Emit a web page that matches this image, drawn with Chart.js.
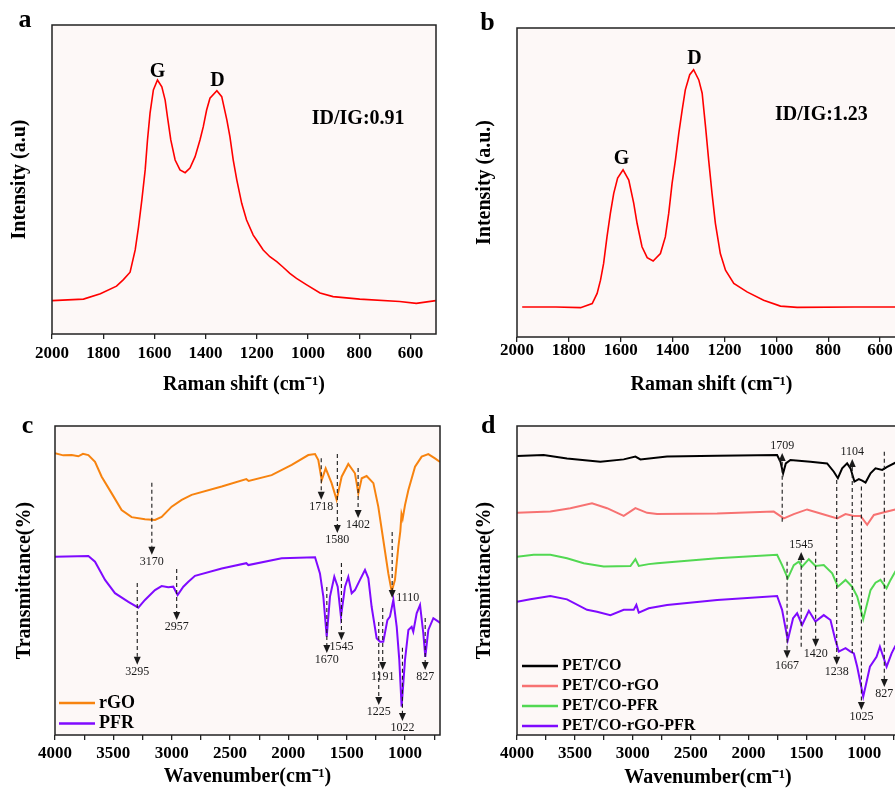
<!DOCTYPE html>
<html>
<head>
<meta charset="utf-8">
<script src="https://cdn.jsdelivr.net/npm/chart.js@4.4.1/dist/chart.umd.min.js"></script>
<style>
  html, body { margin: 0; padding: 0; width: 895px; height: 789px; overflow: hidden; background: #fff; }
  .panel { position: absolute; }
</style>
</head>
<body>
<div class="panel" style="left:0;top:0"><canvas id="chart-a" width="450" height="400"></canvas></div>
<div class="panel" style="left:450px;top:0"><canvas id="chart-b" width="470" height="400"></canvas></div>
<div class="panel" style="left:0;top:400px"><canvas id="chart-c" width="450" height="389"></canvas></div>
<div class="panel" style="left:450px;top:400px"><canvas id="chart-d" width="465" height="389"></canvas></div>
<script>
// ---- Raman (a): rGO
const ramanAShift = [2000, 1877, 1811, 1748, 1721, 1695, 1675, 1662, 1649, 1636, 1627, 1617, 1604, 1588, 1571, 1558, 1549, 1536, 1519, 1500, 1480, 1461, 1441, 1422, 1409, 1396, 1383, 1356, 1337, 1317, 1305, 1292, 1278, 1259, 1240, 1214, 1201, 1175, 1149, 1122, 1097, 1071, 1045, 1005, 953, 902, 798, 642, 577, 501];
const ramanAIntensity = [10.8, 11.3, 13.0, 15.5, 17.6, 20.0, 27.2, 34.7, 43.4, 53.1, 62.8, 71.5, 79.0, 82.2, 80.0, 75.7, 70.3, 62.8, 56.3, 53.1, 52.2, 53.7, 57.4, 62.8, 67.1, 72.5, 76.3, 78.7, 76.8, 69.3, 63.9, 56.3, 49.8, 42.3, 36.9, 32.0, 30.4, 27.2, 25.0, 23.4, 21.6, 19.6, 18.0, 15.9, 13.3, 12.1, 11.3, 10.5, 9.9, 10.8];

// ---- Raman (b)
const ramanBShift = [1980, 1850, 1755, 1710, 1691, 1678, 1666, 1653, 1640, 1627, 1612, 1591, 1569, 1550, 1537, 1518, 1498, 1475, 1447, 1428, 1415, 1402, 1389, 1376, 1363, 1351, 1334, 1319, 1299, 1286, 1273, 1261, 1248, 1235, 1216, 1196, 1164, 1113, 1049, 984, 920, 700, 500];
const ramanBIntensity = [9.7, 9.7, 9.5, 10.8, 14.1, 18.4, 23.8, 32.4, 40.0, 46.5, 51.4, 54.1, 50.8, 43.3, 36.8, 29.2, 25.7, 24.6, 27.0, 32.4, 40.0, 49.7, 57.3, 66.0, 73.5, 80.0, 84.9, 86.5, 83.2, 78.9, 68.1, 57.3, 46.5, 36.8, 27.0, 21.6, 17.3, 14.6, 11.9, 10.0, 9.6, 9.7, 9.7];

const ramanTicks = [2000, 1800, 1600, 1400, 1200, 1000, 800, 600];

// ---- FTIR (c): rGO and PFR
const ftirRgoWn = [4000, 3930, 3857, 3800, 3760, 3714, 3657, 3600, 3514, 3429, 3343, 3229, 3143, 3086, 3000, 2914, 2829, 2571, 2360, 2340, 2143, 1971, 1829, 1771, 1743, 1714, 1680, 1629, 1586, 1543, 1486, 1429, 1400, 1371, 1329, 1271, 1229, 1186, 1143, 1114, 1086, 1057, 1040, 1030, 1020, 1000, 971, 914, 857, 800, 743, 700];
const ftirRgoT = [91.2, 90.5, 90.6, 90.2, 91.0, 90.6, 88.4, 83.6, 78.2, 72.8, 70.5, 69.8, 69.6, 70.6, 73.9, 76.1, 77.7, 80.4, 82.8, 82.2, 84.1, 87.4, 90.6, 90.9, 89.0, 82.5, 86.3, 81.5, 76.1, 83.6, 87.7, 84.7, 78.2, 83.1, 83.8, 81.5, 73.9, 63.1, 52.3, 46.4, 50.2, 60.9, 66.0, 71.5, 70.0, 74.4, 79.3, 86.8, 90.1, 90.9, 89.5, 88.4];
const ftirPfrWn = [4000, 3714, 3657, 3571, 3486, 3371, 3286, 3229, 3143, 3086, 3029, 2986, 2949, 2900, 2857, 2800, 2571, 2360, 2343, 2057, 1771, 1729, 1700, 1671, 1643, 1606, 1577, 1549, 1514, 1486, 1457, 1429, 1386, 1343, 1314, 1286, 1243, 1214, 1186, 1151, 1129, 1100, 1071, 1049, 1029, 1000, 971, 943, 929, 900, 871, 843, 826, 800, 757, 714, 700];
const ftirPfrT = [57.7, 57.9, 56.1, 50.2, 45.9, 43.1, 41.2, 43.7, 46.9, 48.2, 47.8, 48.0, 45.3, 48.0, 49.6, 51.5, 53.9, 55.6, 55.0, 57.2, 57.5, 52.3, 44.8, 31.8, 44.8, 51.2, 48.0, 38.3, 48.0, 51.2, 45.9, 46.9, 50.2, 53.4, 50.7, 41.5, 31.3, 30.2, 30.2, 37.2, 38.3, 43.7, 35.0, 24.3, 9.2, 24.3, 34.0, 35.0, 33.4, 39.4, 42.1, 32.9, 25.3, 34.0, 37.8, 36.7, 36.2];

// ---- FTIR (d): composites
const petCoWn = [4000, 3770, 3568, 3280, 3078, 2977, 2934, 2704, 2271, 1753, 1724, 1701, 1678, 1638, 1465, 1321, 1263, 1228, 1191, 1148, 1119, 1085, 1047, 1018, 989, 946, 903, 845, 802, 733, 700];
const petCoT = [90.3, 90.6, 89.5, 88.4, 89.2, 90.1, 89.2, 90.1, 90.4, 90.6, 88.4, 84.7, 87.9, 89.0, 88.4, 87.9, 85.2, 83.1, 86.3, 87.9, 86.3, 82.0, 82.8, 82.3, 81.7, 84.7, 86.3, 85.8, 86.8, 88.1, 88.3];
const petCoRgoWn = [4000, 3712, 3539, 3352, 3222, 3078, 2977, 2876, 2790, 2271, 1782, 1695, 1609, 1494, 1378, 1234, 1162, 1090, 1032, 975, 917, 845, 733, 700];
const petCoRgoT = [71.9, 72.3, 73.4, 75.0, 73.4, 70.9, 73.4, 71.9, 71.5, 71.7, 72.3, 70.1, 71.5, 73.0, 71.7, 70.1, 71.5, 70.9, 70.9, 68.0, 71.2, 71.9, 73.0, 73.1];
const petCoPfrWn = [4000, 3856, 3712, 3568, 3424, 3251, 3020, 2977, 2948, 2862, 2790, 2271, 1753, 1710, 1661, 1609, 1566, 1537, 1479, 1422, 1350, 1277, 1228, 1162, 1105, 1061, 1009, 946, 903, 860, 808, 773, 733, 700];
const petCoPfrT = [57.7, 58.3, 58.3, 57.2, 55.6, 54.5, 54.7, 56.9, 54.7, 55.3, 55.6, 57.2, 58.3, 55.0, 50.7, 55.0, 56.1, 54.5, 56.9, 54.7, 55.0, 52.3, 48.0, 50.2, 48.0, 44.8, 37.5, 46.9, 49.3, 50.2, 47.5, 50.2, 52.8, 54.7];
const petCoRgoPfrWn = [4000, 3885, 3712, 3568, 3395, 3309, 3193, 3078, 2992, 2969, 2948, 2862, 2704, 2271, 1753, 1710, 1661, 1615, 1580, 1537, 1479, 1422, 1350, 1292, 1249, 1220, 1162, 1119, 1090, 1061, 1009, 951, 894, 865, 807, 764, 735, 700];
const petCoRgoPfrT = [43.1, 43.9, 45.0, 43.9, 40.5, 39.9, 38.8, 40.5, 40.5, 42.1, 39.6, 41.0, 42.1, 43.7, 45.0, 40.5, 30.7, 37.8, 39.4, 35.6, 40.2, 36.7, 38.8, 37.2, 30.7, 27.0, 28.1, 27.0, 26.4, 22.1, 12.4, 22.1, 25.3, 28.6, 22.1, 26.4, 28.6, 30.7];

const ftirTicks = [4000, 3500, 3000, 2500, 2000, 1500, 1000];
const ftirMinorTicks = [3750, 3250, 2750, 2250, 1750, 1250, 750];

// peak labels: wavenumber, dashed arrow from/to (transmittance units)
const ftirCMarks = [
  { wn: 3170, from: 81.6, to: 58.3, label: '3170' },
  { wn: 1718, from: 89.6, to: 76.1, label: '1718' },
  { wn: 1580, from: 90.9, to: 65.4, label: '1580' },
  { wn: 1402, from: 86.4, to: 70.2, label: '1402' },
  { wn: 1110, from: 65.7, to: 44.3, label: '1110', side: 'right' },
  { wn: 3295, from: 49.2, to: 22.7, label: '3295' },
  { wn: 2957, from: 53.7, to: 37.2, label: '2957' },
  { wn: 1670, from: 47.9, to: 26.5, label: '1670' },
  { wn: 1545, from: 55.7, to: 30.7, label: '1545' },
  { wn: 1225, from: 36.6, to: 9.7, label: '1225' },
  { wn: 1191, from: 41.1, to: 21.0, label: '1191' },
  { wn: 1022, from: 28.2, to: 4.5, label: '1022' },
  { wn: 827, from: 37.9, to: 21.0, label: '827' }
];
const ftirDMarks = [
  { wn: 1709, from: 69.0, to: 91.3, label: '1709' },
  { wn: 1104, from: 26.5, to: 89.3, label: '1104' },
  { wn: 1545, from: 28.6, to: 59.2, label: '1545' },
  { wn: 1667, from: 56.1, to: 24.8, label: '1667' },
  { wn: 1420, from: 59.3, to: 28.6, label: '1420' },
  { wn: 1238, from: 82.5, to: 22.7, label: '1238' },
  { wn: 1025, from: 80.4, to: 8.1, label: '1025' },
  { wn: 827, from: 91.7, to: 15.5, label: '827' }
];

const ramanATexts = [
  { wn: 1588, v: 84.9, text: 'G' },
  { wn: 1354, v: 81.9, text: 'D' },
  { wn: 804, v: 69.5, text: 'ID/IG:0.91' }
];
const ramanBTexts = [
  { wn: 1597, v: 57.5, text: 'G' },
  { wn: 1316, v: 89.9, text: 'D' },
  { wn: 826, v: 71.9, text: 'ID/IG:1.23' }
];

const SERIF = "'Liberation Serif', 'Times New Roman', serif";
Chart.defaults.font.family = SERIF;
Chart.defaults.color = '#000';

function toPoints(xs, ys) {
  return xs.map((x, i) => ({ x, y: ys[i] }));
}

function drawMark(ctx, xs, ys, mark) {
  const x = xs.getPixelForValue(mark.wn);
  const y0 = ys.getPixelForValue(mark.from);
  const y1 = ys.getPixelForValue(mark.to);
  const dir = y1 > y0 ? 1 : -1;
  const head = 8;
  ctx.save();
  ctx.strokeStyle = '#1a1a1a';
  ctx.fillStyle = '#1a1a1a';
  ctx.lineWidth = 1.1;
  ctx.setLineDash([4, 3]);
  ctx.beginPath();
  ctx.moveTo(x, y0);
  ctx.lineTo(x, y1 - dir * head);
  ctx.stroke();
  ctx.setLineDash([]);
  ctx.beginPath();
  ctx.moveTo(x, y1);
  ctx.lineTo(x - 3.5, y1 - dir * head);
  ctx.lineTo(x + 3.5, y1 - dir * head);
  ctx.closePath();
  ctx.fill();
  ctx.font = '12px ' + SERIF;
  if (mark.side === 'right') {
    ctx.textAlign = 'left';
    ctx.textBaseline = 'middle';
    ctx.fillText(mark.label, x + 4, y1);
  } else {
    ctx.textAlign = 'center';
    ctx.textBaseline = dir > 0 ? 'top' : 'bottom';
    ctx.fillText(mark.label, x, y1 + dir * 1);
  }
  ctx.restore();
}

function decorPlugin(cfg) {
  return {
    id: 'decor',
    beforeDatasetsDraw(chart) {
      const { ctx, chartArea: a } = chart;
      ctx.save();
      ctx.fillStyle = '#fdf8f7';
      ctx.fillRect(a.left, a.top, a.right - a.left, a.bottom - a.top);
      ctx.restore();
    },
    afterDraw(chart) {
      const { ctx, chartArea: a } = chart;
      const xs = chart.scales.x;
      const ys = chart.scales.y;
      ctx.save();
      ctx.strokeStyle = '#222';
      ctx.lineWidth = 1.5;
      ctx.strokeRect(a.left, a.top, a.right - a.left, a.bottom - a.top);

      ctx.fillStyle = '#000';
      ctx.font = 'bold 26px ' + SERIF;
      ctx.textAlign = 'center';
      ctx.textBaseline = 'alphabetic';
      ctx.fillText(cfg.letter, cfg.letterPos[0], cfg.letterPos[1]);

      ctx.font = 'bold 20px ' + SERIF;
      ctx.textBaseline = 'middle';
      (cfg.texts || []).forEach(t => {
        ctx.fillText(t.text, xs.getPixelForValue(t.wn), ys.getPixelForValue(t.v));
      });
      ctx.restore();

      (cfg.marks || []).forEach(m => drawMark(ctx, xs, ys, m));

      if (cfg.legend) {
        const L = cfg.legend;
        ctx.save();
        ctx.font = 'bold ' + L.size + 'px ' + SERIF;
        ctx.textAlign = 'left';
        ctx.textBaseline = 'middle';
        chart.data.datasets.forEach((ds, i) => {
          const y = L.top + i * L.step;
          ctx.strokeStyle = ds.borderColor;
          ctx.lineWidth = 2.5;
          ctx.beginPath();
          ctx.moveTo(L.x1, y);
          ctx.lineTo(L.x2, y);
          ctx.stroke();
          ctx.fillStyle = '#000';
          ctx.fillText(ds.label, L.x2 + 4, y);
        });
        ctx.restore();
      }
    }
  };
}

function buildChart(canvasId, cfg) {
  const tickValues = cfg.ticks.concat(cfg.minorTicks || []);
  return new Chart(document.getElementById(canvasId), {
    type: 'line',
    data: {
      datasets: cfg.series.map(s => ({
        label: s.label,
        data: toPoints(s.xs, s.ys),
        borderColor: s.color,
        borderWidth: s.width,
        pointRadius: 0,
        tension: 0,
        fill: false
      }))
    },
    options: {
      responsive: false,
      animation: false,
      events: [],
      layout: { padding: { left: 0, right: cfg.padRight, top: cfg.padTop, bottom: 0 } },
      plugins: { legend: { display: false }, tooltip: { enabled: false } },
      scales: {
        x: {
          type: 'linear',
          reverse: true,
          min: cfg.xMin,
          max: cfg.xMax,
          afterBuildTicks: s => { s.ticks = tickValues.map(v => ({ value: v })); },
          afterFit: s => { s.height = cfg.xAxisHeight; },
          ticks: {
            autoSkip: false,
            maxRotation: 0,
            padding: cfg.tickPad,
            font: { size: 17, weight: 'bold', lineHeight: 1 },
            callback: v => (cfg.ticks.includes(v) ? String(v) : '')
          },
          grid: { drawOnChartArea: false, drawTicks: true, tickLength: 5, color: '#222', lineWidth: 1.3 },
          border: { display: false },
          title: {
            display: true,
            text: cfg.xTitle,
            font: { size: 20, weight: 'bold', lineHeight: 1 },
            padding: { top: 0, bottom: cfg.xTitlePad }
          }
        },
        y: {
          min: 0,
          max: 100,
          afterFit: s => { s.width = cfg.yAxisWidth; },
          ticks: { display: false },
          grid: { display: false },
          border: { display: false },
          title: {
            display: true,
            text: cfg.yTitle,
            font: { size: 20, weight: 'bold', lineHeight: 1 },
            padding: { top: cfg.yTitlePad, bottom: 0 }
          }
        }
      }
    },
    plugins: [decorPlugin(cfg)]
  });
}

buildChart('chart-a', {
  letter: 'a', letterPos: [25, 27],
  series: [{ label: 'rGO', xs: ramanAShift, ys: ramanAIntensity, color: '#ff0000', width: 1.6 }],
  xMin: 500, xMax: 2000, ticks: ramanTicks,
  padRight: 14, padTop: 25, yAxisWidth: 52, xAxisHeight: 66,
  tickPad: 6, xTitlePad: 5, yTitlePad: 10,
  xTitle: 'Raman shift (cm\u207B\u00B9)', yTitle: 'Intensity (a.u)',
  texts: ramanATexts
});

buildChart('chart-b', {
  letter: 'b', letterPos: [37.5, 30],
  series: [{ label: 'sample', xs: ramanBShift, ys: ramanBIntensity, color: '#ff0000', width: 1.6 }],
  xMin: 500, xMax: 2000, ticks: ramanTicks,
  padRight: 14, padTop: 28, yAxisWidth: 67, xAxisHeight: 63,
  tickPad: 0, xTitlePad: 5, yTitlePad: 25,
  xTitle: 'Raman shift (cm\u207B\u00B9)', yTitle: 'Intensity (a.u.)',
  texts: ramanBTexts
});

buildChart('chart-c', {
  letter: 'c', letterPos: [27.5, 33],
  series: [
    { label: 'rGO', xs: ftirRgoWn, ys: ftirRgoT, color: '#f7830f', width: 2 },
    { label: 'PFR', xs: ftirPfrWn, ys: ftirPfrT, color: '#7f0aff', width: 2 }
  ],
  xMin: 700, xMax: 4000, ticks: ftirTicks, minorTicks: ftirMinorTicks,
  padRight: 10, padTop: 26, yAxisWidth: 55, xAxisHeight: 54,
  tickPad: 5, xTitlePad: 2, yTitlePad: 15,
  xTitle: 'Wavenumber(cm\u207B\u00B9)', yTitle: 'Transmittance(%)',
  marks: ftirCMarks,
  legend: { x1: 59, x2: 95, top: 303, step: 20.6, size: 18 }
});

buildChart('chart-d', {
  letter: 'd', letterPos: [38.3, 33],
  series: [
    { label: 'PET/CO', xs: petCoWn, ys: petCoT, color: '#000000', width: 2 },
    { label: 'PET/CO-rGO', xs: petCoRgoWn, ys: petCoRgoT, color: '#f77272', width: 2 },
    { label: 'PET/CO-PFR', xs: petCoPfrWn, ys: petCoPfrT, color: '#52d852', width: 2 },
    { label: 'PET/CO-rGO-PFR', xs: petCoRgoPfrWn, ys: petCoRgoPfrT, color: '#7f0aff', width: 2 }
  ],
  xMin: 700, xMax: 4000, ticks: ftirTicks, minorTicks: ftirMinorTicks,
  padRight: 16, padTop: 26, yAxisWidth: 67, xAxisHeight: 54,
  tickPad: 5, xTitlePad: 1, yTitlePad: 25,
  xTitle: 'Wavenumber(cm\u207B\u00B9)', yTitle: 'Transmittance(%)',
  marks: ftirDMarks,
  legend: { x1: 72, x2: 108, top: 266, step: 20, size: 16 }
});
</script>
</body>
</html>
